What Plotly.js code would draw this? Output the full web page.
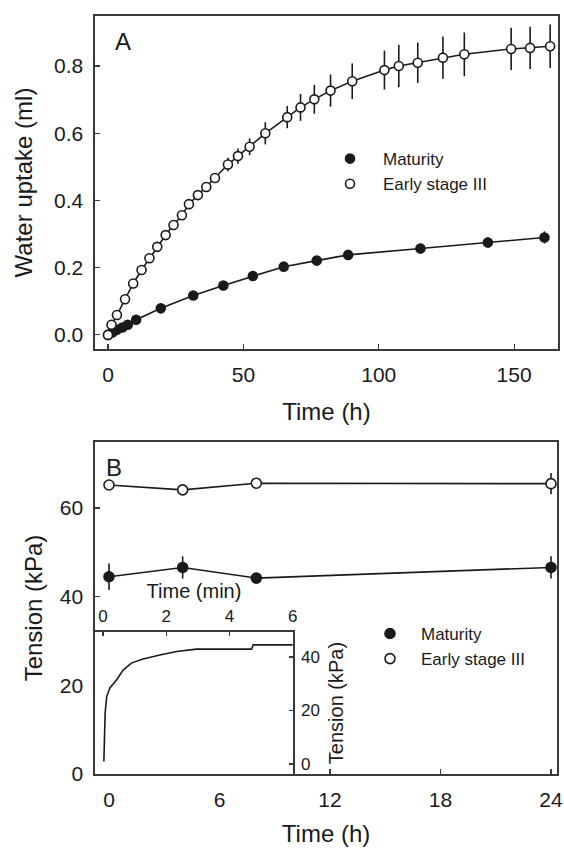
<!DOCTYPE html>
<html>
<head>
<meta charset="utf-8">
<script src="https://cdn.plot.ly/plotly-3.0.1.min.js"></script>
<style>html,body{margin:0;padding:0;background:#fff;}#chart{width:564px;height:849px;}</style>
</head>
<body>
<div id="chart"></div>
<script>
// Panel A: water uptake (ml) vs time (h)
const timeMaturityA = [0, 1.6, 3.3, 5.3, 7.3, 10.4, 19.5, 31.5, 42.6, 53.5, 64.9, 77.1, 88.7, 115.4, 140.3, 161.2];
const uptakeMaturity = [0, 0.007, 0.015, 0.022, 0.030, 0.045, 0.079, 0.117, 0.147, 0.175, 0.203, 0.221, 0.238, 0.257, 0.275, 0.290];
const errMaturityA = [0.003, 0.003, 0.004, 0.004, 0.005, 0.005, 0.007, 0.008, 0.009, 0.010, 0.010, 0.010, 0.012, 0.015, 0.016, 0.018];

const timeEarlyA = [0, 1.3, 3.3, 6.3, 9.3, 12.4, 15.3, 18.2, 21.3, 24.2, 27.3, 29.9, 33.2, 36.3, 39.5, 44.3, 48, 52.3, 58.1, 66.2, 71.1, 76.2, 82.2, 90.2, 102.1, 107.4, 114.4, 123.7, 131.6, 148.9, 155.9, 163.3];
const uptakeEarly = [0, 0.030, 0.059, 0.106, 0.153, 0.193, 0.228, 0.262, 0.297, 0.327, 0.356, 0.389, 0.416, 0.440, 0.467, 0.507, 0.532, 0.560, 0.600, 0.648, 0.677, 0.701, 0.727, 0.755, 0.788, 0.800, 0.810, 0.825, 0.835, 0.851, 0.854, 0.859];
const errEarlyA = [0.003, 0.004, 0.005, 0.006, 0.006, 0.007, 0.008, 0.008, 0.009, 0.010, 0.010, 0.011, 0.012, 0.013, 0.014, 0.020, 0.023, 0.025, 0.033, 0.033, 0.040, 0.043, 0.048, 0.053, 0.058, 0.063, 0.060, 0.063, 0.065, 0.063, 0.063, 0.065];

// Panel B: tension (kPa) vs time (h)
const timeB = [0, 4, 8, 24];
const tensionMaturity = [44.5, 46.6, 44.2, 46.6];
const errMaturityB = [3.0, 2.5, 1.0, 2.5];
const tensionEarly = [65.2, 64.1, 65.6, 65.5];
const errEarlyB = [0.8, 1.0, 1.0, 2.4];

// Inset: tension (kPa) vs time (min)
const timeInset = [0.03, 0.05, 0.07, 0.12, 0.22, 0.43, 0.64, 0.9, 1.27, 1.8, 2.33, 2.96, 4.7, 4.75, 6.0];
const tensionInset = [1, 7.8, 19, 25.2, 28.4, 31.4, 35.1, 37.7, 39.2, 40.7, 42.0, 42.9, 42.9, 44.5, 44.5];

const seriesNames = ['Maturity', 'Early stage III'];
const tickA_x = [0, 50, 100, 150];
const tickA_y = [0, 0.2, 0.4, 0.6, 0.8];
const tickB_x = [0, 6, 12, 18, 24];
const tickB_y = [0, 20, 40, 60];
const tickInset_x = [0, 2, 4, 6];
const tickInset_y = [0, 20, 40];

const FONT = 'Liberation Sans, Arial, Helvetica, sans-serif';
const INK = '#1a1a1a';
const AX = '#3a3a3a';

function lineTrace(x, y, xa, ya) {
  return {x: x, y: y, xaxis: xa, yaxis: ya, mode: 'lines', type: 'scatter',
    line: {color: INK, width: 1.6}, showlegend: false, hoverinfo: 'skip'};
}
function markTrace(x, y, err, xa, ya, filled, name, legend, size) {
  return {x: x, y: y, xaxis: xa, yaxis: ya, mode: 'markers', type: 'scatter', name: name,
    legend: legend,
    error_y: {type: 'data', array: err, visible: true, color: INK, thickness: 1.6, width: 0},
    marker: {symbol: 'circle', size: size, color: filled ? INK : '#ffffff', line: {color: INK, width: 1.6}}};
}

const data = [
  lineTrace(timeMaturityA, uptakeMaturity, 'x', 'y'),
  lineTrace(timeEarlyA, uptakeEarly, 'x', 'y'),
  markTrace(timeMaturityA, uptakeMaturity, errMaturityA, 'x', 'y', true, seriesNames[0], 'legend', 9),
  markTrace(timeEarlyA, uptakeEarly, errEarlyA, 'x', 'y', false, seriesNames[1], 'legend', 9),
  lineTrace(timeB, tensionMaturity, 'x2', 'y2'),
  lineTrace(timeB, tensionEarly, 'x2', 'y2'),
  markTrace(timeB, tensionMaturity, errMaturityB, 'x2', 'y2', true, seriesNames[0], 'legend2', 10),
  markTrace(timeB, tensionEarly, errEarlyB, 'x2', 'y2', false, seriesNames[1], 'legend2', 10),
  {x: timeInset, y: tensionInset, xaxis: 'x3', yaxis: 'y3', mode: 'lines', type: 'scatter',
    line: {color: INK, width: 1.6}, showlegend: false, hoverinfo: 'skip'}
];

function axisBase(extra) {
  return Object.assign({
    showline: true, mirror: true, linecolor: AX, linewidth: 1.6,
    ticks: 'inside', ticklen: 5, tickwidth: 1.2, tickcolor: AX,
    showgrid: false, zeroline: false,
    tickfont: {family: FONT, size: 21, color: INK},
    ticklabelstandoff: 6,
    fixedrange: true
  }, extra);
}

const layout = {
  width: 564, height: 849,
  margin: {l: 95, r: 6, t: 16, b: 75},
  paper_bgcolor: '#ffffff', plot_bgcolor: '#ffffff',
  font: {family: FONT, color: INK},
  xaxis: axisBase({domain: [0, 1], anchor: 'y', range: [-4.8, 166.2], tickvals: tickA_x,
    title: {text: 'Time (h)', font: {family: FONT, size: 24, color: INK}, standoff: 18}}),
  yaxis: axisBase({domain: [0.5607, 1], anchor: 'x', range: [-0.042, 0.949], tickvals: tickA_y, tickformat: '.1f',
    title: {text: 'Water uptake (ml)', font: {family: FONT, size: 24, color: INK}, standoff: 14}}),
  xaxis2: axisBase({domain: [0, 0.998], anchor: 'y2', range: [-0.76, 24.33], tickvals: tickB_x,
    title: {text: 'Time (h)', font: {family: FONT, size: 24, color: INK}, standoff: 15}}),
  yaxis2: axisBase({domain: [0, 0.438], anchor: 'x2', range: [0, 74.9], tickvals: tickB_y,
    title: {text: 'Tension (kPa)', font: {family: FONT, size: 24, color: INK}, standoff: 10}}),
  xaxis3: axisBase({domain: [0, 0.4276], anchor: 'y3', side: 'top', range: [-0.25, 6.01], tickvals: tickInset_x,
    ticklen: 4, tickfont: {family: FONT, size: 17, color: INK}, ticklabelstandoff: 2,
    title: {text: 'Time (min)', font: {family: FONT, size: 20, color: INK}, standoff: 2}}),
  yaxis3: axisBase({domain: [0, 0.1873], anchor: 'x3', side: 'right', range: [-3.7, 49.3], tickvals: tickInset_y,
    ticklen: 4, tickfont: {family: FONT, size: 17, color: INK}, ticklabelstandoff: 3,
    title: {text: 'Tension (kPa)', font: {family: FONT, size: 20, color: INK}, standoff: 10}}),
  legend: {x: 0.4795, y: 0.835, xanchor: 'left', yanchor: 'top', bgcolor: 'rgba(0,0,0,0)',
    font: {family: FONT, size: 17, color: INK}, itemwidth: 56, tracegroupgap: 0},
  legend2: {x: 0.5702, y: 0.2085, xanchor: 'left', yanchor: 'top', bgcolor: 'rgba(0,0,0,0)',
    font: {family: FONT, size: 17, color: INK}, itemwidth: 52, tracegroupgap: 0},
  annotations: [
    {text: 'A', xref: 'paper', yref: 'paper', x: 0.0605, y: 0.9657, showarrow: false,
      xanchor: 'center', yanchor: 'middle', font: {family: FONT, size: 24, color: INK}},
    {text: 'B', xref: 'paper', yref: 'paper', x: 0.041, y: 0.405, showarrow: false,
      xanchor: 'center', yanchor: 'middle', font: {family: FONT, size: 24, color: INK}}
  ],
  showlegend: true
};

Plotly.newPlot('chart', data, layout, {displayModeBar: false, staticPlot: true});
</script>
</body>
</html>
